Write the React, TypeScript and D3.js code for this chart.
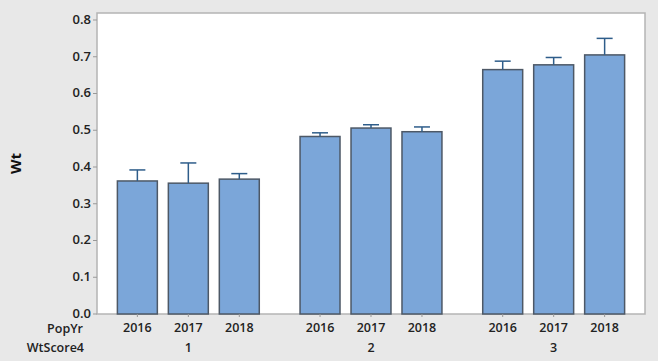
import React from "react";
import * as d3 from "d3";

const groups = ["1", "2", "3"];
const years = ["2016", "2017", "2018"];
// mean Wt per WtScore4 group (rows) and PopYr (cols)
const means1 = [0.362, 0.356, 0.367];
const means2 = [0.483, 0.506, 0.496];
const means3 = [0.665, 0.678, 0.705];
// upper end of error bar
const upper1 = [0.392, 0.411, 0.382];
const upper2 = [0.493, 0.515, 0.509];
const upper3 = [0.688, 0.698, 0.750];
const yTicks = [0, 0.1, 0.2, 0.3, 0.4, 0.5, 0.6, 0.7, 0.8];

const W = 658;
const H = 361;
const plot = { left: 97, right: 645, top: 13, bottom: 314 };
const FONT = "'Open Sans', 'DejaVu Sans', sans-serif";

export default function App() {
  const means = [means1, means2, means3];
  const uppers = [upper1, upper2, upper3];
  const y = d3.scaleLinear().domain([0, 0.8]).range([plot.bottom, 20]);
  const xOuter = d3.scaleBand().domain(groups).range([plot.left, plot.right]).padding(0);
  const xInner = d3
    .scaleBand()
    .domain(years)
    .range([0, xOuter.bandwidth()])
    .paddingInner(0.216)
    .paddingOuter(0.4);
  const bw = xInner.bandwidth();
  const capW = 16;

  return (
    <svg
      width={W}
      height={H}
      style={{ position: "absolute", left: 0, top: 0, display: "block" }}
      fontFamily={FONT}
    >
      <rect x={0} y={0} width={W} height={H} fill="#e8e8e8" />
      <rect
        x={plot.left}
        y={plot.top}
        width={plot.right - plot.left}
        height={plot.bottom - plot.top}
        fill="#ffffff"
        stroke="#b4b4b4"
        strokeWidth={1.5}
      />
      {/* y ticks */}
      {yTicks.map((t) => (
        <g key={t}>
          <line x1={plot.left - 4} x2={plot.left} y1={y(t)} y2={y(t)} stroke="#999" strokeWidth={1} />
          <text
            x={plot.left - 6}
            y={y(t)}
            dy="0.3em"
            textAnchor="end"
            fontSize={13}
            fontWeight={600}
            fill="#222"
          >
            {t.toFixed(1)}
          </text>
        </g>
      ))}
      <text
        transform={`translate(21,${(plot.top + plot.bottom) / 2}) rotate(-90)`}
        textAnchor="middle"
        fontSize={15}
        fontWeight={700}
        fill="#111"
      >
        Wt
      </text>
      {/* bars */}
      {groups.map((g, gi) =>
        years.map((yr, yi) => {
          const x0 = (xOuter(g) as number) + (xInner(yr) as number);
          const cx = x0 + bw / 2;
          const m = means[gi][yi];
          const u = uppers[gi][yi];
          return (
            <g key={g + yr}>
              <rect
                x={x0}
                y={y(m)}
                width={bw}
                height={y(0) - y(m)}
                fill="#7ba6d9"
                stroke="#4d5866"
                strokeWidth={1.5}
              />
              <line x1={cx} x2={cx} y1={y(m)} y2={y(u)} stroke="#2e5d8a" strokeWidth={1.5} />
              <line x1={cx - capW / 2} x2={cx + capW / 2} y1={y(u)} y2={y(u)} stroke="#2e5d8a" strokeWidth={1.5} />
              <line x1={cx} x2={cx} y1={plot.bottom} y2={plot.bottom + 3} stroke="#999" strokeWidth={1} />
              <text x={cx} y={332} textAnchor="middle" fontSize={12.5} fontWeight={600} fill="#222">
                {yr}
              </text>
            </g>
          );
        })
      )}
      {groups.map((g) => (
        <text
          key={g}
          x={(xOuter(g) as number) + xOuter.bandwidth() / 2}
          y={352}
          textAnchor="middle"
          fontSize={12.5}
          fontWeight={600}
          fill="#222"
        >
          {g}
        </text>
      ))}
      <text x={83} y={333} textAnchor="end" fontSize={12.5} fontWeight={600} fill="#222">
        PopYr
      </text>
      <text x={84} y={352} textAnchor="end" fontSize={12.5} fontWeight={600} fill="#222">
        WtScore4
      </text>
    </svg>
  );
}
